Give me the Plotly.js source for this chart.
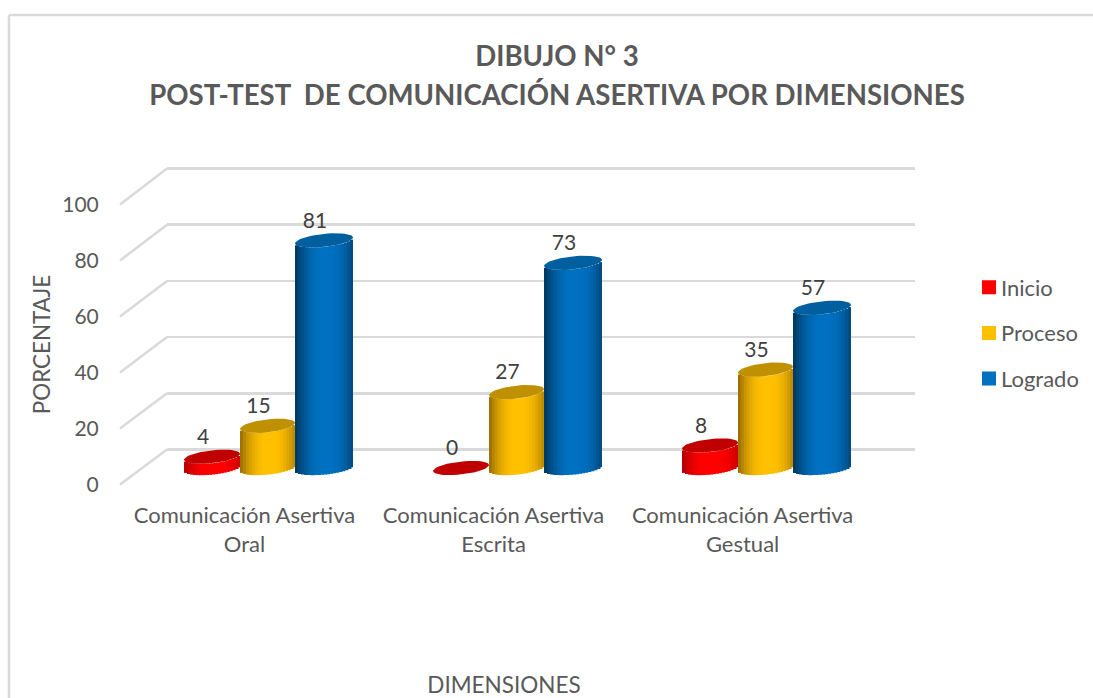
<!DOCTYPE html>
<html>
<head>
<meta charset="utf-8">
<script src="https://cdn.plot.ly/plotly-3.0.1.min.js"></script>
<style>html,body{margin:0;padding:0;background:#fff}#c{width:1093px;height:698px}</style>
</head>
<body>
<div id="c"></div>
<script>
const categories = ["Comunicación Asertiva<br>Oral", "Comunicación Asertiva<br>Escrita", "Comunicación Asertiva<br>Gestual"];
const inicio = [4, 0, 8];
const proceso = [15, 27, 35];
const logrado = [81, 73, 57];
const yTicks = [0, 20, 40, 60, 80, 100];
const titleText = "DIBUJO N° 3<br>POST-TEST \u00a0DE COMUNICACIÓN ASERTIVA POR DIMENSIONES";

const W = 1093, H = 698;
const GREY = "#595959", GRID = "#DADADA", FONT = "Lato, sans-serif";
const px = p => p / W, py = p => 1 - p / H;
const yDom = (zero, k, lo, hi) => [py(zero - k * lo), py(zero - k * hi)];

const CAT_W = 249, BAR_K = 2.81, BAR_ZERO = 468;
const series = [
  {name: "Inicio",  values: inicio,  from: -84.5, to: -28.5, dark: [190, 0, 0],   mid: [255, 0, 0],    cap: "#C00000"},
  {name: "Proceso", values: proceso, from: -28.5, to: 26.5,  dark: [165, 120, 0], mid: [255, 192, 0],  cap: "#BF9000"},
  {name: "Logrado", values: logrado, from: 26.5,  to: 84.5,  dark: [0, 62, 106],  mid: [0, 112, 192],  cap: "#00609F"}
];

const STRIPS = 19, TILT = 3, MINOR = 6.5;
const shade = u => {
  const t = Math.min(1, (1 - Math.abs(u - 0.08)) / 0.85);
  return t * (2 - t);
};
const mix = (a, b, t) => "rgb(" + a.map((v, i) => Math.round(v + (b[i] - v) * t)).join(",") + ")";

const traces = [];
traces.push({type: "scatter", mode: "none", x: categories, y: [0, 0, 0], xaxis: "x", yaxis: "y", showlegend: false, hoverinfo: "skip"});
traces.push({type: "scatter", mode: "none", x: [0, 1], y: [0, 100], xaxis: "x2", yaxis: "y2", showlegend: false, hoverinfo: "skip"});

const groupX = categories.map((_, i) => i);
series.forEach(s => {
  const wPx = s.to - s.from;
  for (let k = 0; k < STRIPS; k++) {
    const u = ((k + 0.5) / STRIPS) * 2 - 1;
    const lower = TILT * u - MINOR * Math.sqrt(1 - u * u);
    const central = k === (STRIPS - 1) / 2;
    const last = k === STRIPS - 1;
    traces.push({
      type: "bar", name: s.name, legendgroup: s.name, showlegend: central,
      x: groupX, y: s.values, base: lower / BAR_K,
      offset: (s.from + k * wPx / STRIPS) / CAT_W,
      width: (wPx / STRIPS + (last ? 0 : 1.5)) / CAT_W,
      xaxis: "x3", yaxis: "y3", hoverinfo: "skip",
      marker: {color: mix(s.dark, s.mid, central ? 1 : shade(u)), line: {width: 0}}
    });
  }
});
series.forEach(s => {
  const a = (s.to - s.from) / 2, mid = (s.from + s.to) / 2;
  const xs = [], ys = [];
  s.values.forEach((v, g) => {
    for (let j = 0; j <= 48; j++) {
      const t = (j / 48) * 2 * Math.PI;
      xs.push(g + (mid + a * Math.cos(t)) / CAT_W);
      ys.push(v + (TILT * Math.cos(t) + MINOR * Math.sin(t)) / BAR_K);
    }
    xs.push(null); ys.push(null);
  });
  traces.push({type: "scatter", mode: "lines", x: xs, y: ys, fill: "toself", fillcolor: s.cap,
    line: {width: 0, color: s.cap}, xaxis: "x3", yaxis: "y3", showlegend: false, hoverinfo: "skip"});
  traces.push({type: "scatter", mode: "text", x: groupX.map(g => g + (mid - 9) / CAT_W),
    y: s.values.map(v => v + 18 / BAR_K), text: s.values.map(String), textposition: "middle center",
    textfont: {family: FONT, size: 21, color: "#404040"}, xaxis: "x3", yaxis: "y3", showlegend: false, hoverinfo: "skip", cliponaxis: false});
});

const shapes = yTicks.map(v => ({type: "line", xref: "paper", yref: "paper",
  x0: px(120), y0: py(484.5 - 2.8 * v), x1: px(167), y1: py(449.5 - 2.81 * v),
  line: {color: GRID, width: 2.5}, layer: "below"}));
shapes.push({type: "line", xref: "paper", yref: "paper", x0: px(9), x1: px(9), y0: py(15), y1: 0, line: {color: GRID, width: 2.5}});
shapes.push({type: "line", xref: "paper", yref: "paper", x0: px(9), x1: 1, y0: py(15), y1: py(15), line: {color: GRID, width: 2.5}});

const layout = {
  width: W, height: H, margin: {l: 0, r: 0, t: 0, b: 0, pad: 0}, autosize: false,
  paper_bgcolor: "#fff", plot_bgcolor: "rgba(0,0,0,0)",
  font: {family: FONT, color: GREY, size: 21},
  barmode: "overlay",
  title: {text: titleText, x: 557 / W, xanchor: "center", y: py(66), yanchor: "middle",
    font: {family: FONT, size: 27.6, weight: 700, color: GREY}},
  showlegend: true,
  legend: {x: px(961), xanchor: "left", y: py(333), yanchor: "middle", traceorder: "grouped",
    tracegroupgap: 14, itemwidth: 30, font: {family: FONT, size: 22, color: GREY}, bgcolor: "rgba(0,0,0,0)"},
  xaxis: {domain: [px(120), px(888)], type: "category", range: [-0.5, 2.584], anchor: "y",
    showgrid: false, zeroline: false, showline: false, ticks: "outside", ticklen: 11, tickcolor: "rgba(0,0,0,0)",
    tickfont: {family: FONT, size: 22, color: GREY},
    title: {text: "DIMENSIONES", standoff: 126, font: {family: FONT, size: 22.5, color: GREY}}},
  yaxis: {domain: yDom(484.5, 2.8, 0, 100), range: [0, 100], anchor: "x",
    tickvals: yTicks, ticks: "outside", ticklen: 16, tickcolor: "rgba(0,0,0,0)",
    showgrid: false, zeroline: false, showline: false,
    tickfont: {family: FONT, size: 21, color: GREY},
    title: {text: "PORCENTAJE", standoff: 5, font: {family: FONT, size: 22.4, color: GREY}}},
  xaxis2: {domain: [px(167), px(915)], range: [0, 1], anchor: "y2", visible: false},
  yaxis2: {domain: yDom(449.5, 2.81, -2, 102), range: [-2, 102], anchor: "x2", tickvals: yTicks,
    showgrid: true, gridcolor: GRID, gridwidth: 2.5, zeroline: false, showline: false, showticklabels: false, ticks: ""},
  xaxis3: {domain: [px(144), px(891)], range: [-0.5, 2.5], anchor: "y3", visible: false},
  yaxis3: {domain: yDom(BAR_ZERO, BAR_K, -10, 110), range: [-10, 110], anchor: "x3", visible: false},
  shapes: shapes
};
Plotly.newPlot("c", traces, layout, {displayModeBar: false, staticPlot: true}).then(() => {
  const lines = document.querySelectorAll(".gtitle .line");
  if (lines[1]) lines[1].setAttribute("dy", (39 / 27.6) + "em");
  document.querySelectorAll(".legend .legendsymbols").forEach(g => g.setAttribute("transform", "translate(8,0)"));
  document.querySelectorAll(".legend .legendpoints path").forEach(p => {
    const t = p.getAttribute("transform") || "";
    p.setAttribute("transform", t + " scale(1.17)");
  });
});
</script>
</body>
</html>
